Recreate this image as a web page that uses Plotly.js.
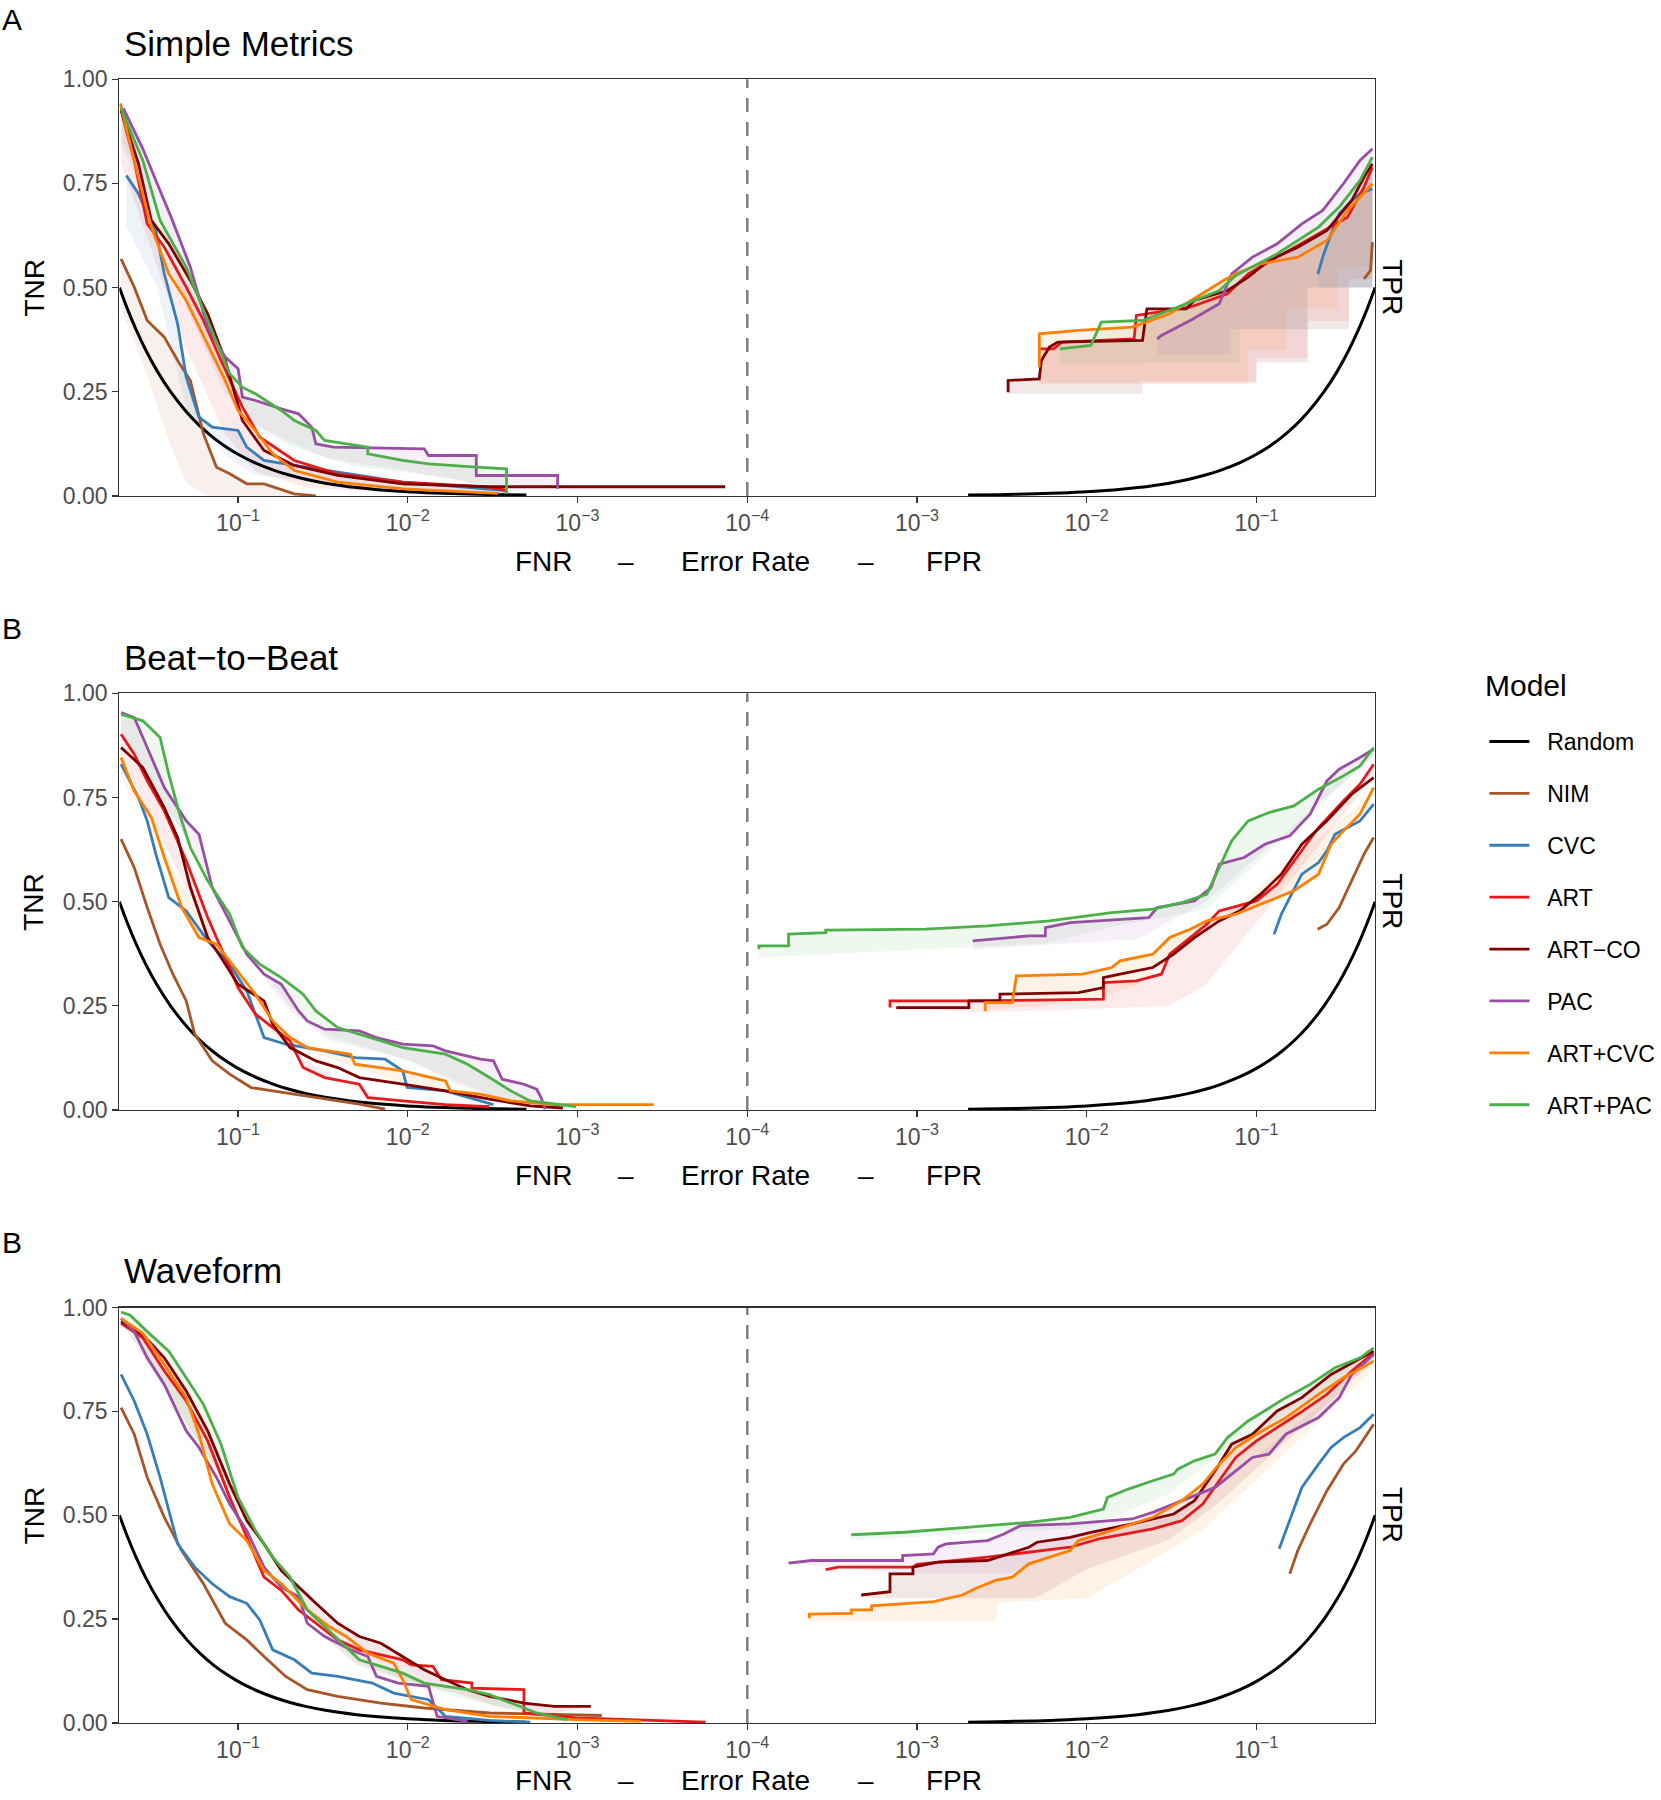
<!DOCTYPE html>
<html>
<head>
<meta charset="utf-8">
<script src="https://cdn.plot.ly/plotly-3.0.1.min.js"></script>
<style>body{margin:0;background:#fff}</style>
</head>
<body>
<div id="plot" style="width:1661px;height:1800px"></div>
<script>
// models, colours, labels
const modelNames = ["Random", "NIM", "CVC", "ART", "ART\u2212CO", "PAC", "ART+CVC", "ART+PAC"];
const modelColors = ["#000000", "#A65628", "#377EB8", "#E41A1C", "#7F0000", "#984EA3", "#FF7F00", "#4DAF4A"];
const panelTitles = ["Simple Metrics", "Beat\u2212to\u2212Beat", "Waveform"];
const panelTags = ["A", "B", "B"];
const tickRates = [0.1, 0.01, 0.001, 0.0001, 0.001, 0.01, 0.1];
const tickSides = ["L", "L", "L", "C", "R", "R", "R"];
const tickLabels = ["10<sup>\u22121</sup>", "10<sup>\u22122</sup>", "10<sup>\u22123</sup>", "10<sup>\u22124</sup>",
                    "10<sup>\u22123</sup>", "10<sup>\u22122</sup>", "10<sup>\u22121</sup>"];

// random classifier (same on every panel)
const randomRate  = [0.5, 0.45, 0.4, 0.35, 0.3, 0.25, 0.2, 0.17, 0.14, 0.12, 0.1, 0.08, 0.06, 0.05, 0.04, 0.03, 0.02, 0.015, 0.01, 0.007, 0.005, 0.003, 0.002];
const randomValue = [0.5, 0.45, 0.4, 0.35, 0.3, 0.25, 0.2, 0.17, 0.14, 0.12, 0.1, 0.08, 0.06, 0.05, 0.04, 0.03, 0.02, 0.015, 0.01, 0.007, 0.005, 0.003, 0.002];

// ---- Panel A: Simple Metrics, left (FNR / TNR)
const aL_NIM_fnr = [0.489, 0.409, 0.343, 0.272, 0.227, 0.191, 0.16, 0.134, 0.112, 0.0889, 0.0703, 0.0466, 0.0348];
const aL_NIM_tnr = [0.569, 0.501, 0.421, 0.381, 0.325, 0.277, 0.149, 0.069, 0.053, 0.029, 0.029, 0.005, 0.0];
const aL_CVC_fnr = [0.455, 0.386, 0.343, 0.305, 0.272, 0.227, 0.202, 0.17, 0.142, 0.1, 0.0889, 0.0703, 0.0466, 0.0259, 0.0107, 0.00262];
const aL_CVC_tnr = [0.769, 0.725, 0.677, 0.637, 0.533, 0.413, 0.285, 0.189, 0.165, 0.157, 0.117, 0.085, 0.073, 0.057, 0.033, 0.013];
const aL_ART_fnr = [0.489, 0.409, 0.343, 0.272, 0.202, 0.16, 0.126, 0.0943, 0.0745, 0.0466, 0.0259, 0.0107, 0.0033, 0.00262];
const aL_ART_tnr = [0.926, 0.805, 0.653, 0.597, 0.501, 0.421, 0.325, 0.213, 0.141, 0.085, 0.053, 0.033, 0.021, 0.013];
const aL_ARTCO_fnr = [0.489, 0.386, 0.324, 0.256, 0.191, 0.151, 0.119, 0.0943, 0.0703, 0.0466, 0.0259, 0.0107, 0.0033, 0.000135];
const aL_ARTCO_tnr = [0.926, 0.797, 0.661, 0.605, 0.517, 0.437, 0.325, 0.181, 0.109, 0.073, 0.049, 0.029, 0.022, 0.022];
const aL_PAC_fnr = [0.474, 0.364, 0.305, 0.248, 0.191, 0.151, 0.119, 0.1, 0.0943, 0.079, 0.0556, 0.044, 0.0368, 0.0348, 0.0275, 0.008, 0.00755, 0.00395, 0.00395, 0.00131, 0.00131];
const aL_PAC_tnr = [0.93, 0.833, 0.757, 0.669, 0.549, 0.405, 0.333, 0.305, 0.237, 0.229, 0.209, 0.197, 0.165, 0.125, 0.117, 0.113, 0.097, 0.097, 0.049, 0.049, 0.017];
const aL_ARTCVC_fnr = [0.494, 0.409, 0.324, 0.256, 0.202, 0.151, 0.119, 0.1, 0.079, 0.0625, 0.0466, 0.0259, 0.0107, 0.00294];
const aL_ARTCVC_tnr = [0.942, 0.805, 0.645, 0.533, 0.469, 0.365, 0.277, 0.205, 0.157, 0.101, 0.061, 0.033, 0.017, 0.006];
const aL_ARTPAC_fnr = [0.489, 0.364, 0.288, 0.202, 0.151, 0.112, 0.0943, 0.079, 0.0556, 0.0466, 0.0348, 0.0309, 0.0172, 0.0172, 0.0107, 0.00755, 0.00395, 0.00262, 0.00262];
const aL_ARTPAC_tnr = [0.93, 0.805, 0.661, 0.549, 0.421, 0.293, 0.261, 0.245, 0.205, 0.181, 0.157, 0.133, 0.117, 0.101, 0.085, 0.077, 0.069, 0.065, 0.005];

// ---- Panel A: right (FPR / TPR)
const aR_NIM_fpr = [0.43, 0.47, 0.482];
const aR_NIM_tpr = [0.521, 0.541, 0.609];
const aR_CVC_fpr = [0.23, 0.2455, 0.275, 0.307, 0.364, 0.407, 0.482];
const aR_CVC_tpr = [0.533, 0.573, 0.629, 0.677, 0.709, 0.725, 0.737];
const aR_ART_fpr = [0.00525, 0.00638, 0.00714, 0.019, 0.0196, 0.0407, 0.0675, 0.0893, 0.1324, 0.232, 0.344, 0.43, 0.482];
const aR_ART_tpr = [0.353, 0.353, 0.369, 0.377, 0.433, 0.453, 0.485, 0.533, 0.573, 0.629, 0.669, 0.741, 0.789];
const aR_ARTCO_fpr = [0.00344, 0.00344, 0.00525, 0.0054, 0.00603, 0.00675, 0.0213, 0.0226, 0.0385, 0.0431, 0.0675, 0.0893, 0.1184, 0.175, 0.26, 0.364, 0.43, 0.482];
const aR_ARTCO_tpr = [0.249, 0.277, 0.281, 0.325, 0.357, 0.369, 0.373, 0.449, 0.449, 0.469, 0.493, 0.525, 0.565, 0.597, 0.637, 0.709, 0.765, 0.797];
const aR_PAC_fpr = [0.026, 0.0275, 0.0407, 0.0603, 0.0714, 0.0946, 0.1324, 0.185, 0.2455, 0.325, 0.407, 0.482];
const aR_PAC_tpr = [0.377, 0.385, 0.421, 0.461, 0.533, 0.573, 0.605, 0.653, 0.685, 0.749, 0.805, 0.833];
const aR_ARTCVC_fpr = [0.00525, 0.00525, 0.00893, 0.0185, 0.0308, 0.0638, 0.0755, 0.1057, 0.175, 0.26, 0.344, 0.407, 0.482];
const aR_ARTCVC_tpr = [0.309, 0.389, 0.397, 0.405, 0.437, 0.517, 0.533, 0.557, 0.573, 0.613, 0.685, 0.717, 0.749];
const aR_ARTPAC_fpr = [0.00694, 0.01057, 0.01217, 0.0213, 0.0344, 0.0603, 0.0755, 0.1324, 0.232, 0.307, 0.407, 0.482];
const aR_ARTPAC_tpr = [0.353, 0.361, 0.417, 0.421, 0.453, 0.493, 0.529, 0.581, 0.645, 0.693, 0.757, 0.813];

// ---- Panel B: Beat-to-Beat, left
const bL_NIM_fnr = [0.489, 0.409, 0.343, 0.288, 0.242, 0.202, 0.18, 0.142, 0.112, 0.0838, 0.0625, 0.0348, 0.0193, 0.0136];
const bL_NIM_tnr = [0.650, 0.582, 0.486, 0.398, 0.326, 0.262, 0.182, 0.118, 0.086, 0.054, 0.046, 0.030, 0.014, 0.002];
const bL_CVC_fnr = [0.489, 0.386, 0.343, 0.305, 0.256, 0.202, 0.151, 0.112, 0.0889, 0.0703, 0.0524, 0.0309, 0.0205, 0.0136, 0.0107, 0.0101, 0.006, 0.00373, 0.00313];
const bL_CVC_tnr = [0.830, 0.750, 0.694, 0.614, 0.510, 0.478, 0.406, 0.350, 0.286, 0.174, 0.158, 0.142, 0.126, 0.122, 0.094, 0.054, 0.046, 0.022, 0.013];
const bL_ART_fnr = [0.489, 0.409, 0.343, 0.272, 0.202, 0.151, 0.119, 0.1, 0.079, 0.0625, 0.0494, 0.0414, 0.0309, 0.0193, 0.0172, 0.0107, 0.006, 0.0033];
const bL_ART_tnr = [0.902, 0.854, 0.790, 0.718, 0.598, 0.462, 0.366, 0.294, 0.230, 0.198, 0.166, 0.102, 0.078, 0.062, 0.030, 0.022, 0.013, 0.008];
const bL_ARTCO_fnr = [0.489, 0.364, 0.272, 0.227, 0.191, 0.151, 0.126, 0.1, 0.0703, 0.0625, 0.0494, 0.0348, 0.0259, 0.0193, 0.0107, 0.006, 0.0033, 0.0019, 0.00122];
const bL_ARTCO_tnr = [0.870, 0.822, 0.726, 0.654, 0.534, 0.414, 0.366, 0.302, 0.262, 0.206, 0.150, 0.118, 0.102, 0.078, 0.062, 0.046, 0.026, 0.010, 0.005];
const bL_PAC_fnr = [0.489, 0.409, 0.343, 0.272, 0.202, 0.17, 0.142, 0.112, 0.0889, 0.0703, 0.0556, 0.044, 0.0391, 0.0309, 0.0193, 0.0153, 0.0107, 0.00711, 0.006, 0.00373, 0.00313, 0.00278, 0.00207, 0.00174, 0.00164, 0.00155];
const bL_PAC_tnr = [0.954, 0.942, 0.870, 0.774, 0.694, 0.662, 0.534, 0.454, 0.374, 0.326, 0.302, 0.238, 0.214, 0.194, 0.190, 0.174, 0.158, 0.154, 0.142, 0.122, 0.118, 0.074, 0.062, 0.050, 0.030, 0.002];
const bL_ARTCVC_fnr = [0.489, 0.409, 0.324, 0.272, 0.215, 0.17, 0.134, 0.112, 0.079, 0.0625, 0.0494, 0.0391, 0.0217, 0.0205, 0.0107, 0.006, 0.00562, 0.00373, 0.00247, 0.00137, 0.000356];
const bL_ARTCVC_tnr = [0.846, 0.766, 0.702, 0.606, 0.486, 0.414, 0.398, 0.358, 0.278, 0.214, 0.174, 0.150, 0.134, 0.110, 0.094, 0.070, 0.046, 0.038, 0.022, 0.013, 0.013];
const bL_ARTPAC_fnr = [0.489, 0.364, 0.288, 0.256, 0.221, 0.191, 0.151, 0.112, 0.0943, 0.0745, 0.0556, 0.0414, 0.0348, 0.0259, 0.0193, 0.0107, 0.006, 0.00445, 0.0033, 0.00247, 0.0019, 0.00102];
const bL_ARTPAC_tnr = [0.95, 0.934, 0.894, 0.806, 0.710, 0.630, 0.550, 0.470, 0.390, 0.350, 0.318, 0.278, 0.238, 0.198, 0.182, 0.150, 0.134, 0.110, 0.078, 0.046, 0.022, 0.008];

// ---- Panel B: right
const bR_NIM_fpr = [0.229, 0.26, 0.307, 0.364, 0.43, 0.49];
const bR_NIM_tpr = [0.434, 0.446, 0.486, 0.550, 0.614, 0.654];
const bR_CVC_fpr = [0.127, 0.14, 0.157, 0.185, 0.232, 0.26, 0.29, 0.344, 0.407, 0.49];
const bR_CVC_tpr = [0.422, 0.470, 0.510, 0.566, 0.594, 0.622, 0.662, 0.678, 0.694, 0.734];
const bR_ART_fpr = [0.000693, 0.000693, 0.00207, 0.01253, 0.01253, 0.0196, 0.0275, 0.0308, 0.0407, 0.051, 0.0603, 0.1, 0.1324, 0.166, 0.232, 0.325, 0.407, 0.49];
const bR_ART_tpr = [0.246, 0.262, 0.262, 0.266, 0.306, 0.310, 0.326, 0.374, 0.414, 0.446, 0.478, 0.502, 0.542, 0.598, 0.678, 0.742, 0.782, 0.830];
const bR_ARTCO_fpr = [0.000755, 0.00202, 0.00202, 0.00308, 0.00308, 0.00893, 0.01253, 0.01253, 0.0157, 0.0245, 0.0325, 0.0431, 0.0603, 0.0798, 0.1057, 0.14, 0.185, 0.26, 0.364, 0.49];
const bR_ARTCO_tpr = [0.246, 0.246, 0.262, 0.262, 0.278, 0.282, 0.294, 0.318, 0.326, 0.342, 0.374, 0.414, 0.454, 0.478, 0.518, 0.566, 0.638, 0.694, 0.758, 0.798];
const bR_PAC_fpr = [0.00213, 0.00456, 0.0057, 0.0057, 0.00798, 0.0232, 0.026, 0.0431, 0.054, 0.0603, 0.0845, 0.112, 0.157, 0.207, 0.26, 0.307, 0.407, 0.49];
const bR_PAC_tpr = [0.406, 0.418, 0.418, 0.438, 0.450, 0.462, 0.486, 0.502, 0.534, 0.590, 0.606, 0.638, 0.658, 0.710, 0.790, 0.818, 0.846, 0.866];
const bR_ARTCVC_fpr = [0.00252, 0.00252, 0.00364, 0.00385, 0.00946, 0.014, 0.0157, 0.0245, 0.0308, 0.0407, 0.051, 0.0755, 0.112, 0.166, 0.232, 0.275, 0.325, 0.407, 0.49];
const bR_ARTCVC_tpr = [0.238, 0.258, 0.258, 0.322, 0.326, 0.342, 0.358, 0.374, 0.414, 0.434, 0.454, 0.470, 0.498, 0.526, 0.566, 0.638, 0.670, 0.710, 0.774];
const bR_ARTPAC_fpr = [0.000117, 0.000117, 0.000175, 0.000175, 0.00029, 0.00029, 0.00112, 0.0026, 0.00603, 0.014, 0.0245, 0.0364, 0.051, 0.0603, 0.0714, 0.0893, 0.1184, 0.166, 0.232, 0.325, 0.407, 0.49];
const bR_ARTPAC_tpr = [0.386, 0.394, 0.394, 0.422, 0.426, 0.432, 0.434, 0.442, 0.454, 0.474, 0.482, 0.498, 0.518, 0.582, 0.646, 0.694, 0.714, 0.730, 0.770, 0.802, 0.826, 0.870];

// ---- Panel C: Waveform, left
const cL_NIM_fnr = [0.489, 0.409, 0.343, 0.272, 0.215, 0.16, 0.119, 0.0889, 0.0703, 0.0524, 0.0391, 0.0259, 0.0144, 0.008, 0.0033, 0.00072];
const cL_NIM_tnr = [0.759, 0.695, 0.591, 0.495, 0.415, 0.335, 0.240, 0.200, 0.160, 0.112, 0.080, 0.064, 0.048, 0.036, 0.024, 0.018];
const cL_CVC_fnr = [0.489, 0.409, 0.343, 0.288, 0.227, 0.18, 0.142, 0.112, 0.0889, 0.0745, 0.0625, 0.0466, 0.0368, 0.0259, 0.0162, 0.0121, 0.00755, 0.006, 0.0033, 0.0019];
const cL_CVC_tnr = [0.839, 0.775, 0.695, 0.591, 0.431, 0.375, 0.335, 0.304, 0.288, 0.248, 0.176, 0.152, 0.120, 0.112, 0.096, 0.072, 0.056, 0.016, 0.006, 0.002];
const cL_ART_fnr = [0.489, 0.364, 0.272, 0.202, 0.151, 0.112, 0.0838, 0.0703, 0.0556, 0.044, 0.0348, 0.0259, 0.0193, 0.0107, 0.00955, 0.00711, 0.00633, 0.00419, 0.00419, 0.00207, 0.00207, 0.00102, 0.000176];
const cL_ART_tnr = [0.962, 0.927, 0.847, 0.775, 0.679, 0.543, 0.423, 0.351, 0.319, 0.272, 0.240, 0.200, 0.176, 0.152, 0.140, 0.136, 0.104, 0.096, 0.084, 0.080, 0.024, 0.012, 0.002];
const cL_ARTCO_fnr = [0.489, 0.364, 0.272, 0.202, 0.151, 0.112, 0.0889, 0.0703, 0.0556, 0.044, 0.0348, 0.0259, 0.0193, 0.0144, 0.0107, 0.008, 0.006, 0.00445, 0.0033, 0.00207, 0.00137, 0.000834];
const cL_ARTCO_tnr = [0.966, 0.935, 0.879, 0.799, 0.703, 0.575, 0.487, 0.431, 0.367, 0.327, 0.288, 0.240, 0.208, 0.192, 0.160, 0.128, 0.104, 0.080, 0.064, 0.048, 0.040, 0.040];
const cL_PAC_fnr = [0.489, 0.409, 0.343, 0.272, 0.202, 0.17, 0.134, 0.112, 0.0889, 0.0703, 0.0556, 0.044, 0.0391, 0.0309, 0.0217, 0.0172, 0.0153, 0.0114, 0.00755, 0.00672, 0.00445];
const cL_PAC_tnr = [0.974, 0.942, 0.879, 0.815, 0.703, 0.663, 0.591, 0.527, 0.463, 0.375, 0.327, 0.304, 0.240, 0.208, 0.176, 0.160, 0.112, 0.096, 0.088, 0.016, 0.004];
const cL_ARTCVC_fnr = [0.489, 0.364, 0.272, 0.202, 0.17, 0.142, 0.112, 0.0889, 0.0703, 0.0556, 0.0391, 0.0291, 0.023, 0.0172, 0.0121, 0.0107, 0.00955, 0.006, 0.0033, 0.00102, 0.000425];
const cL_ARTCVC_tnr = [0.974, 0.938, 0.863, 0.783, 0.695, 0.575, 0.479, 0.439, 0.367, 0.335, 0.272, 0.232, 0.208, 0.168, 0.144, 0.104, 0.056, 0.032, 0.016, 0.008, 0.004];
const cL_ARTPAC_fnr = [0.489, 0.434, 0.343, 0.256, 0.202, 0.16, 0.126, 0.1, 0.079, 0.0625, 0.0494, 0.0391, 0.0309, 0.0193, 0.0144, 0.0107, 0.008, 0.00445, 0.0033, 0.0022, 0.00174, 0.00115];
const cL_ARTPAC_tnr = [0.989, 0.982, 0.942, 0.895, 0.831, 0.767, 0.671, 0.543, 0.463, 0.399, 0.351, 0.272, 0.232, 0.152, 0.136, 0.120, 0.096, 0.080, 0.068, 0.040, 0.024, 0.008];

// ---- Panel C: right
const cR_NIM_fpr = [0.157, 0.175, 0.207, 0.26, 0.325, 0.385, 0.49];
const cR_NIM_tpr = [0.359, 0.415, 0.479, 0.559, 0.623, 0.655, 0.719];
const cR_CVC_fpr = [0.136, 0.149, 0.166, 0.185, 0.232, 0.275, 0.325, 0.407, 0.49];
const cR_CVC_tpr = [0.419, 0.463, 0.519, 0.567, 0.623, 0.663, 0.687, 0.711, 0.743];
const cR_ART_fpr = [0.00029, 0.000344, 0.000946, 0.001, 0.0026, 0.00456, 0.00798, 0.0118, 0.0245, 0.0364, 0.0482, 0.0603, 0.0755, 0.1, 0.1324, 0.175, 0.26, 0.364, 0.49];
const cR_ART_tpr = [0.369, 0.375, 0.375, 0.382, 0.399, 0.411, 0.423, 0.443, 0.467, 0.487, 0.527, 0.583, 0.639, 0.679, 0.711, 0.743, 0.791, 0.847, 0.891];
const cR_ARTCO_fpr = [0.000469, 0.000693, 0.000693, 0.000946, 0.000946, 0.00133, 0.0026, 0.00456, 0.0051, 0.00798, 0.01057, 0.0185, 0.0325, 0.0431, 0.057, 0.0714, 0.0946, 0.1324, 0.185, 0.275, 0.49];
const cR_ARTCO_tpr = [0.308, 0.316, 0.359, 0.359, 0.375, 0.387, 0.391, 0.423, 0.435, 0.447, 0.459, 0.479, 0.503, 0.535, 0.607, 0.671, 0.695, 0.751, 0.783, 0.839, 0.895];
const cR_PAC_fpr = [0.000175, 0.000239, 0.000822, 0.000822, 0.00125, 0.00133, 0.00148, 0.0026, 0.00325, 0.00407, 0.00798, 0.0185, 0.0245, 0.0364, 0.057, 0.0755, 0.0946, 0.1184, 0.149, 0.232, 0.307, 0.364, 0.49];
const cR_PAC_tpr = [0.385, 0.391, 0.391, 0.403, 0.407, 0.423, 0.431, 0.439, 0.455, 0.475, 0.479, 0.491, 0.507, 0.535, 0.567, 0.607, 0.639, 0.647, 0.695, 0.735, 0.783, 0.839, 0.887];
const cR_ARTCVC_fpr = [0.000232, 0.000232, 0.00041, 0.00041, 0.00054, 0.00054, 0.00125, 0.00185, 0.00219, 0.0029, 0.00364, 0.00456, 0.00603, 0.00798, 0.00893, 0.014, 0.0245, 0.0364, 0.0482, 0.0603, 0.0755, 0.1, 0.149, 0.232, 0.325, 0.49];
const cR_ARTCVC_tpr = [0.252, 0.262, 0.264, 0.272, 0.272, 0.282, 0.292, 0.308, 0.323, 0.343, 0.351, 0.383, 0.399, 0.415, 0.439, 0.463, 0.495, 0.535, 0.575, 0.623, 0.663, 0.695, 0.735, 0.791, 0.831, 0.871];
const cR_ARTPAC_fpr = [0.00041, 0.000845, 0.00196, 0.00456, 0.00798, 0.01253, 0.01326, 0.01754, 0.0245, 0.0325, 0.0344, 0.0431, 0.057, 0.0675, 0.0893, 0.112, 0.149, 0.207, 0.29, 0.407, 0.49];
const cR_ARTPAC_tpr = [0.453, 0.459, 0.471, 0.483, 0.495, 0.515, 0.543, 0.563, 0.583, 0.599, 0.611, 0.631, 0.647, 0.687, 0.727, 0.751, 0.783, 0.815, 0.855, 0.879, 0.903];

// ---- lower edges of the confidence bands
const aL_PAC_lo_x = [0.474, 0.3, 0.2, 0.12, 0.08, 0.05, 0.03, 0.01, 0.004, 0.0013];
const aL_PAC_lo_y = [0.85, 0.68, 0.45, 0.25, 0.17, 0.13, 0.09, 0.06, 0.03, 0.02];
const aL_ARTPAC_lo_x = [0.489, 0.2, 0.1, 0.05, 0.02, 0.005, 0.0026];
const aL_ARTPAC_lo_y = [0.85, 0.45, 0.2, 0.12, 0.07, 0.04, 0.0];
const aL_ART_lo_x = [0.489, 0.3, 0.2, 0.12, 0.08, 0.04, 0.01, 0.0026];
const aL_ART_lo_y = [0.8, 0.55, 0.35, 0.15, 0.06, 0.02, 0.005, 0.0];
const aL_CVC_lo_x = [0.455, 0.3, 0.2, 0.12, 0.08, 0.03, 0.01, 0.0026];
const aL_CVC_lo_y = [0.65, 0.5, 0.2, 0.1, 0.05, 0.03, 0.01, 0.0];
const aL_NIM_lo_x = [0.489, 0.35, 0.25, 0.2, 0.15, 0.0348];
const aL_NIM_lo_y = [0.45, 0.3, 0.12, 0.03, 0.0, 0.0];
const aR_ARTCO_lo_x = [0.00344, 0.0213, 0.0213, 0.1, 0.2, 0.35, 0.482];
const aR_ARTCO_lo_y = [0.245, 0.245, 0.27, 0.32, 0.40, 0.50, 0.60];
const aR_ART_lo_x = [0.00525, 0.02, 0.1, 0.2, 0.35, 0.482];
const aR_ART_lo_y = [0.27, 0.275, 0.33, 0.42, 0.52, 0.62];
const aR_ARTCVC_lo_x = [0.00525, 0.0213, 0.09, 0.15, 0.3, 0.482];
const aR_ARTCVC_lo_y = [0.27, 0.27, 0.35, 0.45, 0.55, 0.65];
const aR_ARTPAC_lo_x = [0.00694, 0.0213, 0.08, 0.2, 0.482];
const aR_ARTPAC_lo_y = [0.317, 0.32, 0.40, 0.50, 0.65];
const aR_PAC_lo_x = [0.026, 0.07, 0.2, 0.482];
const aR_PAC_lo_y = [0.34, 0.40, 0.50, 0.70];
const aR_CVC_lo_x = [0.23, 0.3, 0.482];
const aR_CVC_lo_y = [0.50, 0.50, 0.55];
const bL_PAC_lo_x = [0.489, 0.2, 0.1, 0.05, 0.03, 0.01, 0.005, 0.003, 0.00155];
const bL_PAC_lo_y = [0.9, 0.65, 0.40, 0.24, 0.17, 0.12, 0.06, 0.03, 0.0];
const bL_ARTPAC_lo_x = [0.489, 0.2, 0.1, 0.05, 0.03, 0.01, 0.003, 0.001];
const bL_ARTPAC_lo_y = [0.9, 0.65, 0.42, 0.25, 0.18, 0.12, 0.03, 0.0];
const bL_ARTCVC_lo_x = [0.489, 0.1, 0.05, 0.02, 0.01, 0.003, 0.00137];
const bL_ARTCVC_lo_y = [0.8, 0.3, 0.16, 0.10, 0.06, 0.02, 0.005];
const bL_ART_lo_x = [0.489, 0.1, 0.05, 0.02, 0.01, 0.0033];
const bL_ART_lo_y = [0.85, 0.28, 0.14, 0.05, 0.015, 0.0];
const bR_ARTPAC_lo_x = [0.000117, 0.0057, 0.014, 0.05, 0.49];
const bR_ARTPAC_lo_y = [0.366, 0.40, 0.44, 0.48, 0.85];
const bR_PAC_lo_x = [0.00213, 0.02, 0.03, 0.05, 0.49];
const bR_PAC_lo_y = [0.386, 0.41, 0.45, 0.50, 0.85];
const bR_ART_lo_x = [0.00252, 0.03, 0.05, 0.1, 0.49];
const bR_ART_lo_y = [0.234, 0.25, 0.30, 0.45, 0.80];
const bR_ARTCVC_lo_x = [0.00252, 0.01, 0.02, 0.05, 0.49];
const bR_ARTCVC_lo_y = [0.24, 0.26, 0.30, 0.43, 0.76];
const cL_ARTCO_lo_x = [0.03, 0.02, 0.01, 0.005, 0.003, 0.0015];
const cL_ARTCO_lo_y = [0.2, 0.14, 0.10, 0.07, 0.04, 0.02];
const cL_ARTPAC_lo_x = [0.1, 0.05, 0.02, 0.01, 0.005, 0.00115];
const cL_ARTPAC_lo_y = [0.5, 0.3, 0.15, 0.10, 0.06, 0.0];
const cR_ARTCVC_lo_x = [0.000232, 0.0029, 0.003, 0.01, 0.02, 0.05, 0.49];
const cR_ARTCVC_lo_y = [0.244, 0.244, 0.29, 0.30, 0.37, 0.47, 0.85];
const cR_ARTCO_lo_x = [0.000469, 0.005, 0.01, 0.03, 0.06, 0.49];
const cR_ARTCO_lo_y = [0.30, 0.30, 0.37, 0.44, 0.53, 0.87];
const cR_PAC_lo_x = [0.000822, 0.0035, 0.008, 0.03, 0.49];
const cR_PAC_lo_y = [0.36, 0.36, 0.43, 0.47, 0.87];
const cR_ARTPAC_lo_x = [0.00041, 0.01, 0.03, 0.05, 0.49];
const cR_ARTPAC_lo_y = [0.44, 0.47, 0.55, 0.62, 0.88];

// [panel, side, model index, rates, values]
const curves = [
    [0, "L", 1, aL_NIM_fnr, aL_NIM_tnr], [0, "R", 1, aR_NIM_fpr, aR_NIM_tpr],
    [0, "L", 2, aL_CVC_fnr, aL_CVC_tnr], [0, "R", 2, aR_CVC_fpr, aR_CVC_tpr],
    [0, "L", 3, aL_ART_fnr, aL_ART_tnr], [0, "R", 3, aR_ART_fpr, aR_ART_tpr],
    [0, "L", 4, aL_ARTCO_fnr, aL_ARTCO_tnr], [0, "R", 4, aR_ARTCO_fpr, aR_ARTCO_tpr],
    [0, "L", 5, aL_PAC_fnr, aL_PAC_tnr], [0, "R", 5, aR_PAC_fpr, aR_PAC_tpr],
    [0, "L", 6, aL_ARTCVC_fnr, aL_ARTCVC_tnr], [0, "R", 6, aR_ARTCVC_fpr, aR_ARTCVC_tpr],
    [0, "L", 7, aL_ARTPAC_fnr, aL_ARTPAC_tnr], [0, "R", 7, aR_ARTPAC_fpr, aR_ARTPAC_tpr],
    [1, "L", 1, bL_NIM_fnr, bL_NIM_tnr], [1, "R", 1, bR_NIM_fpr, bR_NIM_tpr],
    [1, "L", 2, bL_CVC_fnr, bL_CVC_tnr], [1, "R", 2, bR_CVC_fpr, bR_CVC_tpr],
    [1, "L", 3, bL_ART_fnr, bL_ART_tnr], [1, "R", 3, bR_ART_fpr, bR_ART_tpr],
    [1, "L", 4, bL_ARTCO_fnr, bL_ARTCO_tnr], [1, "R", 4, bR_ARTCO_fpr, bR_ARTCO_tpr],
    [1, "L", 5, bL_PAC_fnr, bL_PAC_tnr], [1, "R", 5, bR_PAC_fpr, bR_PAC_tpr],
    [1, "L", 6, bL_ARTCVC_fnr, bL_ARTCVC_tnr], [1, "R", 6, bR_ARTCVC_fpr, bR_ARTCVC_tpr],
    [1, "L", 7, bL_ARTPAC_fnr, bL_ARTPAC_tnr], [1, "R", 7, bR_ARTPAC_fpr, bR_ARTPAC_tpr],
    [2, "L", 1, cL_NIM_fnr, cL_NIM_tnr], [2, "R", 1, cR_NIM_fpr, cR_NIM_tpr],
    [2, "L", 2, cL_CVC_fnr, cL_CVC_tnr], [2, "R", 2, cR_CVC_fpr, cR_CVC_tpr],
    [2, "L", 3, cL_ART_fnr, cL_ART_tnr], [2, "R", 3, cR_ART_fpr, cR_ART_tpr],
    [2, "L", 4, cL_ARTCO_fnr, cL_ARTCO_tnr], [2, "R", 4, cR_ARTCO_fpr, cR_ARTCO_tpr],
    [2, "L", 5, cL_PAC_fnr, cL_PAC_tnr], [2, "R", 5, cR_PAC_fpr, cR_PAC_tpr],
    [2, "L", 6, cL_ARTCVC_fnr, cL_ARTCVC_tnr], [2, "R", 6, cR_ARTCVC_fpr, cR_ARTCVC_tpr],
    [2, "L", 7, cL_ARTPAC_fnr, cL_ARTPAC_tnr], [2, "R", 7, cR_ARTPAC_fpr, cR_ARTPAC_tpr]
];

// [panel, side, model index, band lower x, band lower y, curve x, curve y]
const bands = [
    [0, "L", 5, aL_PAC_lo_x, aL_PAC_lo_y, aL_PAC_fnr, aL_PAC_tnr],
    [0, "L", 7, aL_ARTPAC_lo_x, aL_ARTPAC_lo_y, aL_ARTPAC_fnr, aL_ARTPAC_tnr],
    [0, "L", 3, aL_ART_lo_x, aL_ART_lo_y, aL_ART_fnr, aL_ART_tnr],
    [0, "L", 2, aL_CVC_lo_x, aL_CVC_lo_y, aL_CVC_fnr, aL_CVC_tnr],
    [0, "L", 1, aL_NIM_lo_x, aL_NIM_lo_y, aL_NIM_fnr, aL_NIM_tnr],
    [0, "R", 4, aR_ARTCO_lo_x, aR_ARTCO_lo_y, aR_ARTCO_fpr, aR_ARTCO_tpr],
    [0, "R", 3, aR_ART_lo_x, aR_ART_lo_y, aR_ART_fpr, aR_ART_tpr],
    [0, "R", 6, aR_ARTCVC_lo_x, aR_ARTCVC_lo_y, aR_ARTCVC_fpr, aR_ARTCVC_tpr],
    [0, "R", 7, aR_ARTPAC_lo_x, aR_ARTPAC_lo_y, aR_ARTPAC_fpr, aR_ARTPAC_tpr],
    [0, "R", 5, aR_PAC_lo_x, aR_PAC_lo_y, aR_PAC_fpr, aR_PAC_tpr],
    [0, "R", 2, aR_CVC_lo_x, aR_CVC_lo_y, aR_CVC_fpr, aR_CVC_tpr],
    [1, "L", 5, bL_PAC_lo_x, bL_PAC_lo_y, bL_PAC_fnr, bL_PAC_tnr],
    [1, "L", 7, bL_ARTPAC_lo_x, bL_ARTPAC_lo_y, bL_ARTPAC_fnr, bL_ARTPAC_tnr],
    [1, "L", 6, bL_ARTCVC_lo_x, bL_ARTCVC_lo_y, bL_ARTCVC_fnr, bL_ARTCVC_tnr],
    [1, "L", 3, bL_ART_lo_x, bL_ART_lo_y, bL_ART_fnr, bL_ART_tnr],
    [1, "R", 7, bR_ARTPAC_lo_x, bR_ARTPAC_lo_y, bR_ARTPAC_fpr, bR_ARTPAC_tpr],
    [1, "R", 5, bR_PAC_lo_x, bR_PAC_lo_y, bR_PAC_fpr, bR_PAC_tpr],
    [1, "R", 3, bR_ART_lo_x, bR_ART_lo_y, bR_ART_fpr, bR_ART_tpr],
    [1, "R", 6, bR_ARTCVC_lo_x, bR_ARTCVC_lo_y, bR_ARTCVC_fpr, bR_ARTCVC_tpr],
    [2, "L", 4, cL_ARTCO_lo_x, cL_ARTCO_lo_y, cL_ARTCO_fnr, cL_ARTCO_tnr],
    [2, "L", 7, cL_ARTPAC_lo_x, cL_ARTPAC_lo_y, cL_ARTPAC_fnr, cL_ARTPAC_tnr],
    [2, "R", 6, cR_ARTCVC_lo_x, cR_ARTCVC_lo_y, cR_ARTCVC_fpr, cR_ARTCVC_tpr],
    [2, "R", 4, cR_ARTCO_lo_x, cR_ARTCO_lo_y, cR_ARTCO_fpr, cR_ARTCO_tpr],
    [2, "R", 5, cR_PAC_lo_x, cR_PAC_lo_y, cR_PAC_fpr, cR_PAC_tpr],
    [2, "R", 7, cR_ARTPAC_lo_x, cR_ARTPAC_lo_y, cR_ARTPAC_fpr, cR_ARTPAC_tpr]
];

// error rates -> position on the mirrored log axis (10^-4 in the middle)
function toPos(rate, side) {
    if (side === "C") return 0;
    let d = Math.log10(rate) + 4;
    return side === "L" ? -d : d;
}

function hexToRgba(hex, a) {
    let n = parseInt(hex.slice(1), 16);
    return `rgba(${(n >> 16) & 255},${(n >> 8) & 255},${n & 255},${a})`;
}

const axisSuffix = ["", "2", "3"];
const legendPad = "\u00A0\u00A0";
let traces = [];

// bands first so the lines sit on top
bands.forEach(([p, side, m, lx, ly, cx, cy]) => {
    let xa = "x" + axisSuffix[p], ya = "y" + axisSuffix[p];
    let shape = (p === 0 && side === "R") ? "hv" : "linear";
    traces.push({ x: lx.map(r => toPos(r, side)), y: ly, xaxis: xa, yaxis: ya, type: "scatter", mode: "lines",
        line: { width: 0, shape: shape }, showlegend: false, hoverinfo: "skip" });
    traces.push({ x: cx.map(r => toPos(r, side)), y: cy, xaxis: xa, yaxis: ya, type: "scatter", mode: "lines",
        line: { width: 0 }, fill: "tonexty", fillcolor: hexToRgba(modelColors[m], 0.09), showlegend: false, hoverinfo: "skip" });
});

// random classifier
for (let p = 0; p < 3; p++) {
    ["L", "R"].forEach((side, k) => {
        traces.push({ x: randomRate.map(r => toPos(r, side)), y: randomValue, xaxis: "x" + axisSuffix[p], yaxis: "y" + axisSuffix[p],
            type: "scatter", mode: "lines", name: legendPad + modelNames[0], legendgroup: modelNames[0],
            showlegend: p === 0 && k === 0, line: { color: modelColors[0], width: 3, shape: "spline" } });
    });
}

// model curves
let seen = {};
curves.forEach(([p, side, m, xs, ys]) => {
    traces.push({ x: xs.map(r => toPos(r, side)), y: ys, xaxis: "x" + axisSuffix[p], yaxis: "y" + axisSuffix[p],
        type: "scatter", mode: "lines", name: legendPad + modelNames[m], legendgroup: modelNames[m],
        showlegend: !seen[m], line: { color: modelColors[m], width: 2.8 } });
    seen[m] = true;
});

const tickVals = tickRates.map((r, i) => toPos(r, tickSides[i]));
const xDomain = [0.0719, 0.8279];
const yDomains = [[0.7245, 0.956], [0.3833, 0.6148], [0.0428, 0.2736]];

let layout = {
    width: 1661, height: 1800,
    margin: { l: 0, r: 0, t: 0, b: 0, autoexpand: false },
    paper_bgcolor: "#ffffff", plot_bgcolor: "#ffffff",
    font: { family: "Liberation Sans, Arial, sans-serif", color: "#000000" },
    showlegend: true,
    legend: { x: 0.8937, y: 0.6, xanchor: "left", yanchor: "top", traceorder: "grouped", tracegroupgap: 19,
        itemwidth: 40, font: { size: 23 }, bgcolor: "rgba(0,0,0,0)" },
    shapes: [], annotations: []
};

// legend heading
layout.annotations.push({ text: "Model", x: 0.8928, y: 0.6189, xref: "paper", yref: "paper", showarrow: false,
    xanchor: "left", yanchor: "middle", font: { size: 30 } });

const xLabels = [["FNR", 0.3275], ["\u2013", 0.3766], ["Error Rate", 0.4491], ["\u2013", 0.5211], ["FPR", 0.5744]];
const xLabelY = [0.6883, 0.3469, 0.0111];
const titleY = [0.9758, 0.6346, 0.294];
const tagY = [0.9894, 0.6511, 0.31];

for (let p = 0; p < 3; p++) {
    let s = axisSuffix[p];
    layout["xaxis" + s] = {
        domain: xDomain, range: [-4 - Math.log10(0.5), 4 + Math.log10(0.5)], anchor: "y" + s,
        tickmode: "array", tickvals: tickVals, ticktext: tickLabels,
        ticks: "outside", ticklen: 6, tickwidth: 1.2, tickcolor: "#333333",
        showline: true, mirror: true, linecolor: "#333333", linewidth: 1.2,
        showgrid: false, zeroline: false, tickfont: { size: 23, color: "#4d4d4d" }, fixedrange: true
    };
    layout["yaxis" + s] = {
        domain: yDomains[p], range: [0, 1], anchor: "x" + s,
        tickmode: "array", tickvals: [0, 0.25, 0.5, 0.75, 1], ticktext: ["0.00", "0.25", "0.50", "0.75", "1.00"],
        ticks: "outside", ticklen: 6, tickwidth: 1.2, tickcolor: "#333333",
        showline: true, mirror: true, linecolor: "#333333", linewidth: 1.2,
        showgrid: false, zeroline: false, tickfont: { size: 23, color: "#4d4d4d" }, fixedrange: true
    };
    layout.shapes.push({ type: "line", xref: "x" + s, yref: "y" + s + " domain", x0: 0, x1: 0, y0: 0, y1: 1,
        line: { color: "#7f7f7f", width: 2.5, dash: "14px,10px" }, layer: "below" });

    xLabels.forEach(([t, x]) => layout.annotations.push({ text: t, x: x, y: xLabelY[p], xref: "paper", yref: "paper",
        showarrow: false, xanchor: "center", yanchor: "middle", font: { size: 28 } }));
    let yc = (yDomains[p][0] + yDomains[p][1]) / 2;
    layout.annotations.push({ text: "TNR", x: 0.0205, y: yc, xref: "paper", yref: "paper", showarrow: false,
        textangle: -90, xanchor: "center", yanchor: "middle", font: { size: 28 } });
    layout.annotations.push({ text: "TPR", x: 0.8383, y: yc, xref: "paper", yref: "paper", showarrow: false,
        textangle: 90, xanchor: "center", yanchor: "middle", font: { size: 28 } });
    layout.annotations.push({ text: panelTitles[p], x: 0.0733, y: titleY[p], xref: "paper", yref: "paper", showarrow: false,
        xanchor: "left", yanchor: "middle", font: { size: 35 } });
    layout.annotations.push({ text: panelTags[p], x: 0.0, y: tagY[p], xref: "paper", yref: "paper", showarrow: false,
        xanchor: "left", yanchor: "middle", font: { size: 30 } });
}

Plotly.newPlot("plot", traces, layout, { staticPlot: true });
</script>
</body>
</html>
